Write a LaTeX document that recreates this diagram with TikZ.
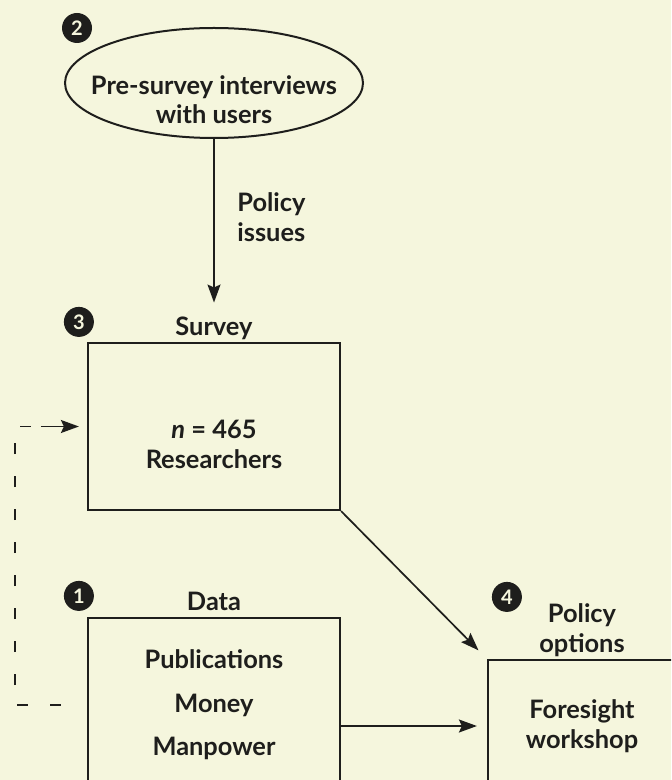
\documentclass[tikz,border=0pt]{standalone}
\usepackage{fontspec}
\setmainfont{Lato}
\usetikzlibrary{arrows.meta,positioning,shapes.geometric}
\definecolor{paper}{RGB}{245,246,221}
\definecolor{ink}{RGB}{30,30,28}

\begin{document}
\begin{tikzpicture}[
  x=0.5pt,y=-0.5pt,
  font=\bfseries\fontsize{12.7}{14.8}\selectfont,
  text=ink,
  stage/.style={draw=ink,line width=1.1pt,align=center,inner sep=0pt},
  oval/.style={stage,ellipse,line width=1pt,inner sep=-20pt,minimum width=149pt,minimum height=55pt},
  lbl/.style={align=center,inner sep=1pt,text depth=0pt},
  badge/.style={circle,fill=ink,text=paper,inner sep=0pt,minimum size=15pt,
                font=\bfseries\fontsize{10}{10}\selectfont},
  arr/.style={-{Stealth[length=9pt,width=6.5pt,inset=1.5pt]},line width=0.85pt,draw=ink},
  feedback/.style={draw=ink,line width=0.8pt,dash pattern=on 5.5pt off 11pt},
  node distance=2pt
]
  \useasboundingbox (0,0) rectangle (671,780);
  \clip (0,0) rectangle (671,780);
  \fill[paper] (0,0) rectangle (671,780);

  % stages
  \node[oval] (interviews) at (214,83) {\rule{0pt}{26pt}Pre-survey interviews\\with users};
  \node[stage,minimum width=126pt,minimum height=83.5pt] (survey) at (214,426.5)
    {\rule{0pt}{27pt}{\itshape n} = 465\\Researchers};
  \node[stage,minimum width=126pt,minimum height=87pt] (data) at (214,705)
    {Publications\\[7pt]Money\\[7pt]Manpower};
  \node[stage,minimum width=94pt,minimum height=66pt] (foresight) at (582,726) {Foresight\\workshop};

  % headings
  \node[lbl,above=of survey] (surveylbl) {Survey};
  \node[lbl,above=of data] (datalbl) {Data};
  \node[lbl,above=of foresight] (optionslbl) {Policy\\options};
  \node[lbl,align=left,anchor=west] (issueslbl) at (235,217) {Policy\\issues};

  % step numbers
  \node[badge] (step2) at (77,28) {2};
  \node[badge] (step3) at ([shift={(-8,-20)}]survey.north west) {3};
  \node[badge] (step1) at ([shift={(-8,-21)}]data.north west) {1};
  \node[badge] (step4) at ([shift={(20,-62)}]foresight.north west) {4};

  % flows
  \draw[arr,shorten >=6pt] (interviews.south) -- (surveylbl.north);
  \draw[arr,shorten >=6pt] (survey.south east) -- (foresight.north west);
  \draw[arr,shorten >=5pt] (data.east |- foresight.west) -- (foresight.west);
  \draw[feedback] ([xshift=-13pt]data.west) -| ([xshift=-36pt]survey.west)
    -- ([xshift=-23pt]survey.west);
  \draw[arr,shorten >=4pt] ([xshift=-23pt]survey.west) -- (survey.west);
\end{tikzpicture}
\end{document}
